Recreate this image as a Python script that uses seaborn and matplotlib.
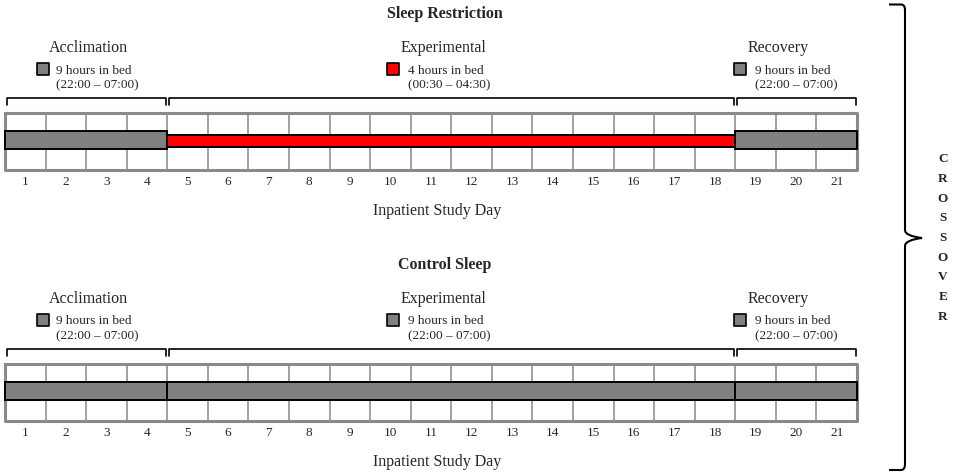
import matplotlib
matplotlib.use("Agg")
import matplotlib.pyplot as plt
from matplotlib.path import Path
from matplotlib.patches import PathPatch
import seaborn as sns

# ---------------- data ----------------
days = list(range(1, 22))
phases = ["Acclimation", "Experimental", "Recovery"]
phase_start = [1, 5, 19]
phase_end = [4, 18, 21]
conditions = ["Sleep Restriction", "Control Sleep"]
hours_sr = [9, 4, 9]
hours_cs = [9, 9, 9]
window_sr = ["(22:00 \u2013 07:00)", "(00:30 \u2013 04:30)", "(22:00 \u2013 07:00)"]
window_cs = ["(22:00 \u2013 07:00)", "(22:00 \u2013 07:00)", "(22:00 \u2013 07:00)"]
x_label = "Inpatient Study Day"
crossover = "CROSSOVER"

# ---------------- style ----------------
sns.set_theme(style="white")
plt.rcParams["font.family"] = ["Liberation Serif", "DejaVu Serif"]

W, H = 956, 476
fig = plt.figure(figsize=(W / 100, H / 100), dpi=100)

GX0, GX1 = 5, 857
PPD = (GX1 - GX0) / len(days)  # pixels per day


def dx(px):
    return 0.5 + (px - GX0) / PPD


colors = {9: "#808080", 4: "#ff0000"}
heights = {9: 18, 4: 12}

# layout in panel pixel coordinates
title_center = [88, 444, 778]
square_center = [42.5, 393, 740.5]
text_left = [56, 408, 755]


def draw_panel(ax, cond, hours, windows):
    ax.set_xlim(dx(0) if False else 0.5, 21.5)
    ax.axis("off")
    # condition title
    ax.text(dx(445), 18, cond, ha="center", va="baseline", fontsize=11.5,
            fontweight="bold", clip_on=False)
    for i, ph in enumerate(phases):
        ax.text(dx(title_center[i]), 52, ph, ha="center", va="baseline",
                fontsize=11.5, clip_on=False)
        ax.scatter([dx(square_center[i])], [68.7], marker="s", s=78,
                   color=colors[hours[i]], edgecolor="black", linewidth=1.2,
                   clip_on=False, zorder=5)
        ax.text(dx(text_left[i]), 73.5, f"{hours[i]} hours in bed", ha="left",
                va="baseline", fontsize=9.5, clip_on=False)
        ax.text(dx(text_left[i]), 88.5, windows[i], ha="left",
                va="baseline", fontsize=9.5, clip_on=False)
        # bracket
        x0 = phase_start[i] - 0.5 + 0.05
        x1 = phase_end[i] + 0.5 - 0.03
        ax.plot([x0, x0, x1, x1], [105, 97.5, 97.5, 105], color="black",
                lw=1.2, clip_on=False, solid_joinstyle="round")
    # grid
    top, bot = 112.5, 169.5
    for d in days[:-1]:
        ax.plot([d + 0.5, d + 0.5], [top, bot], color="#9a9a9a", lw=1.3,
                clip_on=False, zorder=1)
    ax.plot([0.5, 21.5, 21.5, 0.5, 0.5], [top, top, bot, bot, top],
            color="#8a8a8a", lw=2.2, clip_on=False, zorder=2)
    # sleep bars
    for i in range(len(phases)):
        h = hours[i]
        ax.barh(140 if h == 9 else 141, phase_end[i] - phase_start[i] + 1,
                left=phase_start[i] - 0.5, height=heights[h],
                color=colors[h], edgecolor="black", linewidth=1.4, zorder=4,
                clip_on=False)
    # day labels
    for d in days:
        ax.text(d, 185, str(d), ha="center", va="baseline", fontsize=9.5,
                clip_on=False)
    ax.text(dx(437), 215, x_label, ha="center", va="baseline", fontsize=11.5,
            clip_on=False)


ax_top = fig.add_axes([GX0 / W, 0.5, (GX1 - GX0) / W, 0.5])
ax_top.set_ylim(238, 0)
draw_panel(ax_top, conditions[0], hours_sr, window_sr)

ax_bot = fig.add_axes([GX0 / W, 0.0, (GX1 - GX0) / W, 0.5])
ax_bot.set_ylim(238 - 251, -251 + 0)  # placeholder, fixed below
ax_bot.set_ylim(476 - 251, 238 - 251)
draw_panel(ax_bot, conditions[1], hours_cs, window_cs)

# crossover brace
ax_b = fig.add_axes([0, 0, 1, 1], zorder=-1)
ax_b.set_xlim(0, W)
ax_b.set_ylim(H, 0)
ax_b.axis("off")
bx, tip = 905, 922
verts = [(889, 4.5), (901, 4.5), (bx, 4.5), (bx, 10),
         (bx, 230), (bx, 236), (tip, 238), (bx, 240), (bx, 246),
         (bx, 464), (bx, 470), (901, 470), (889, 470)]
codes = [Path.MOVETO, Path.LINETO, Path.CURVE3, Path.CURVE3,
         Path.LINETO, Path.CURVE3, Path.CURVE3, Path.CURVE3, Path.CURVE3,
         Path.LINETO, Path.CURVE3, Path.CURVE3, Path.LINETO]
ax_b.add_patch(PathPatch(Path(verts, codes), facecolor="none",
                         edgecolor="black", lw=1.5))
for k, ch in enumerate(crossover):
    ax_b.text(943, 159 + k * 19.75, ch, ha="center", va="center",
              fontsize=9.5, fontweight="bold")

fig.savefig("out.png", dpi=100, facecolor="white")
